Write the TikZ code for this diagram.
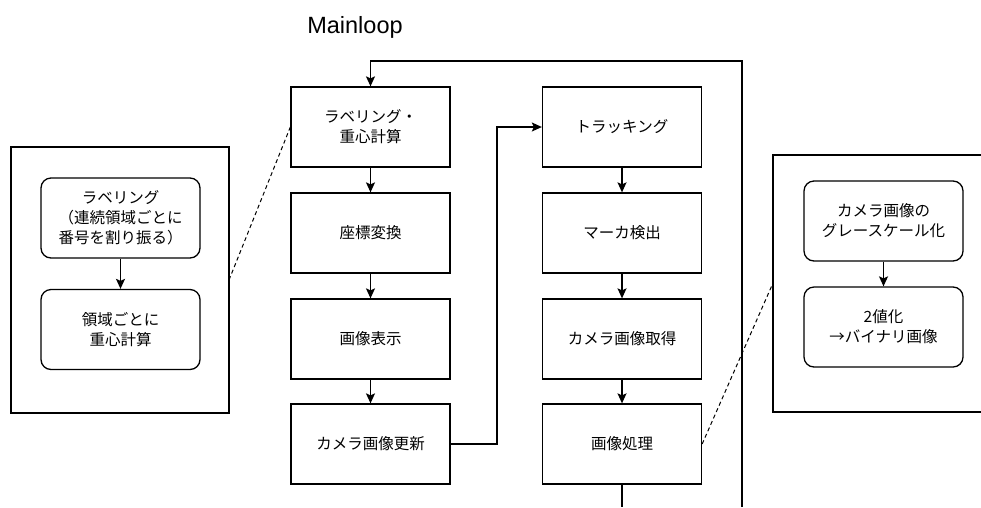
\documentclass[tikz,border=0pt]{standalone}
\usepackage{fontspec}
\setmainfont{Liberation Sans}
\newfontfamily\jp{Noto Sans CJK JP}
\usetikzlibrary{positioning,arrows.meta,calc}

\begin{document}
\begin{tikzpicture}[
  x=1pt, y=-1pt,
  box/.style={draw, line width=1.3pt, minimum width=159pt, minimum height=80pt, align=center, font=\jp\fontsize{15.5}{20}\selectfont},
  sub/.style={box, rounded corners=10pt},
  frame/.style={draw, line width=1.3pt},
  arr/.style={line width=1.3pt, -{Stealth[length=10pt, width=9pt, inset=2pt]}},
  link/.style={line width=1.3pt},
  zoomline/.style={line width=1pt, dashed, dash pattern=on 4pt off 3pt}
]
  \useasboundingbox (0,0) rectangle (981,507);

  % Title
  \node[font=\fontsize{23.5}{27}\selectfont] (title) at (355,27) {Mainloop};

  % Main loop, left column
  \node[box] (lab) at (370.5,127) {ラベリング・\\重心計算};
  \node[box] (coord) at (370.5,233) {座標変換};
  \node[box] (disp) at (370.5,339) {画像表示};
  \node[box] (upd) at (370.5,444) {カメラ画像更新};

  % Main loop, right column
  \node[box] (track) at (622,127) {トラッキング};
  \node[box] (marker) at (622,233) {マーカ検出};
  \node[box] (camget) at (622,339) {カメラ画像取得};
  \node[box] (proc) at (622,444) {画像処理};

  % Detail of labeling
  \draw[frame] (11,147) rectangle (229,413);
  \coordinate (labframe) at (229,280);
  \node[sub] (label) at (120.5,218) {ラベリング\\（連続領域ごとに\\番号を割り振る）};
  \node[sub] (centroid) at (120.5,329.5) {領域ごとに\\重心計算};

  % Detail of image processing
  \draw[frame] (773,155) rectangle (993,412);
  \coordinate (procframe) at (773,283);
  \node[sub] (gray) at (883.5,221) {カメラ画像の\\グレースケール化};
  \node[sub] (binar) at (883.5,327) {2値化\\→バイナリ画像};

  % Flow
  \draw[arr] (lab) -- (coord);
  \draw[arr] (coord) -- (disp);
  \draw[arr] (disp) -- (upd);
  \draw[arr] (upd.east) -- (497,444) |- (track.west);
  \draw[arr] (track) -- (marker);
  \draw[arr] (marker) -- (camget);
  \draw[arr] (camget) -- (proc);
  \draw[arr] (label) -- (centroid);
  \draw[arr] (gray) -- (binar);

  % Loop back
  \coordinate (procout) at (622,507);
  \coordinate (loopin) at (742,507);
  \coordinate (looptop) at (742,61);
  \draw[link] (proc.south) -- (procout);
  \draw[arr] (loopin) -- (looptop) -| (lab.north);

  % Zoom lines
  \draw[zoomline] (labframe) -- (lab.west);
  \draw[zoomline] (proc.east) -- (procframe);
\end{tikzpicture}
\end{document}
